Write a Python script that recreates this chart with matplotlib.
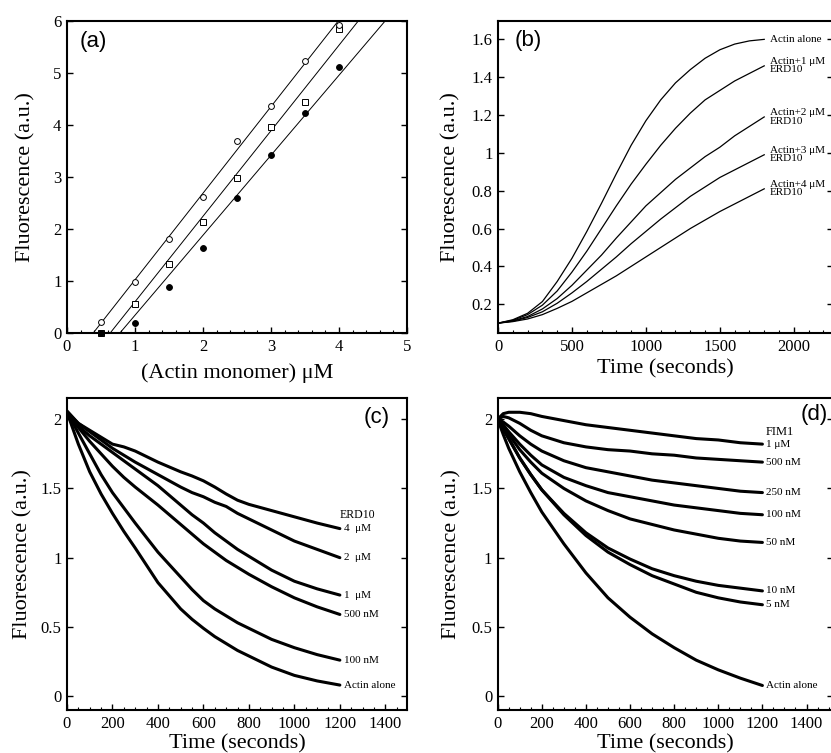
import matplotlib
matplotlib.use("Agg")
import matplotlib.pyplot as plt
import numpy as np
from matplotlib.ticker import MultipleLocator

# ---- panel (a): fluorescence vs actin monomer
conc_a = [0.5, 1.0, 1.5, 2.0, 2.5, 3.0, 3.5, 4.0]
open_circ = [0.21, 0.98, 1.81, 2.62, 3.70, 4.36, 5.23, 5.92]
open_sq = [0.00, 0.56, 1.32, 2.13, 2.98, 3.97, 4.44, 5.84]
filled_circ = [0.00, 0.20, 0.89, 1.64, 2.59, 3.43, 4.24, 5.12]

# ---- panel (b): polymerisation time course
time_b = [0, 100, 200, 300, 400, 500, 600, 700, 800, 900, 1000,
          1100, 1200, 1300, 1400, 1500, 1600, 1700, 1800]
b_alone = [0.10, 0.118, 0.152, 0.214, 0.32, 0.443, 0.584, 0.734, 0.89, 1.04,
           1.17, 1.28, 1.37, 1.44, 1.50, 1.545, 1.575, 1.592, 1.60]
b_erd1 = [0.10, 0.115, 0.145, 0.195, 0.27, 0.37, 0.48, 0.60, 0.72, 0.835,
          0.94, 1.04, 1.13, 1.21, 1.28, 1.33, 1.38, 1.42, 1.46]
b_erd2 = [0.10, 0.112, 0.135, 0.175, 0.23, 0.30, 0.38, 0.46, 0.55, 0.635,
          0.72, 0.79, 0.86, 0.92, 0.98, 1.03, 1.09, 1.14, 1.19]
b_erd3 = [0.10, 0.11, 0.13, 0.16, 0.205, 0.26, 0.32, 0.385, 0.45, 0.52,
          0.585, 0.65, 0.71, 0.77, 0.82, 0.87, 0.91, 0.95, 0.99]
b_erd4 = [0.10, 0.108, 0.122, 0.145, 0.178, 0.215, 0.26, 0.305, 0.35, 0.40,
          0.45, 0.50, 0.55, 0.60, 0.645, 0.69, 0.73, 0.77, 0.81]
b_labels = ["Actin alone", "Actin+1 μM\nERD10", "Actin+2 μM\nERD10",
            "Actin+3 μM\nERD10", "Actin+4 μM\nERD10"]

# ---- panel (c): depolymerisation with ERD10
time_c = [0, 50, 100, 150, 200, 250, 300, 400, 500, 550, 600, 650, 700, 750,
          800, 900, 1000, 1100, 1200]
c_alone = [2.05, 1.82, 1.62, 1.46, 1.32, 1.19, 1.07, 0.82, 0.63, 0.555, 0.49, 0.43,
           0.38, 0.33, 0.29, 0.21, 0.15, 0.11, 0.08]
c_100n = [2.05, 1.90, 1.75, 1.60, 1.47, 1.36, 1.25, 1.04, 0.86, 0.77, 0.69, 0.63,
          0.58, 0.53, 0.49, 0.41, 0.35, 0.30, 0.26]
c_500n = [2.05, 1.94, 1.84, 1.75, 1.66, 1.58, 1.51, 1.38, 1.24, 1.17, 1.10, 1.04,
          0.98, 0.93, 0.88, 0.79, 0.71, 0.645, 0.59]
c_1u = [2.05, 1.95, 1.88, 1.82, 1.76, 1.70, 1.64, 1.52, 1.38, 1.31, 1.25, 1.18,
        1.12, 1.06, 1.01, 0.91, 0.83, 0.775, 0.73]
c_2u = [2.05, 1.97, 1.91, 1.85, 1.79, 1.74, 1.69, 1.60, 1.51, 1.47, 1.44, 1.40,
        1.37, 1.32, 1.28, 1.20, 1.12, 1.06, 1.00]
c_4u = [2.06, 1.97, 1.92, 1.87, 1.82, 1.80, 1.77, 1.69, 1.62, 1.59, 1.555, 1.51,
        1.46, 1.415, 1.385, 1.34, 1.295, 1.25, 1.21]
c_labels = ["Actin alone", "100 nM", "500 nM", "1  μM", "2  μM", "4  μM"]

# ---- panel (d): depolymerisation with FIM1
time_d = [0, 25, 50, 100, 150, 200, 300, 400, 500, 600, 700, 800, 900, 1000, 1100, 1200]
d_alone = [2.00, 1.89, 1.79, 1.62, 1.47, 1.33, 1.10, 0.89, 0.71, 0.57, 0.45, 0.35, 0.26, 0.19, 0.13, 0.077]
d_5n = [2.00, 1.93, 1.86, 1.72, 1.60, 1.49, 1.31, 1.16, 1.04, 0.95, 0.87, 0.81, 0.75, 0.71, 0.68, 0.66]
d_10n = [2.00, 1.93, 1.86, 1.72, 1.60, 1.49, 1.32, 1.18, 1.07, 0.99, 0.92, 0.87, 0.83, 0.80, 0.78, 0.76]
d_50n = [2.00, 1.95, 1.89, 1.78, 1.69, 1.61, 1.50, 1.41, 1.34, 1.28, 1.24, 1.20, 1.17, 1.14, 1.12, 1.11]
d_100n = [2.00, 1.96, 1.91, 1.82, 1.74, 1.67, 1.58, 1.52, 1.47, 1.44, 1.41, 1.38, 1.36, 1.34, 1.32, 1.31]
d_250n = [2.00, 1.98, 1.95, 1.88, 1.82, 1.77, 1.70, 1.65, 1.62, 1.59, 1.56, 1.54, 1.52, 1.50, 1.48, 1.47]
d_500n = [2.00, 2.02, 2.01, 1.97, 1.92, 1.88, 1.83, 1.80, 1.78, 1.77, 1.75, 1.74, 1.72, 1.71, 1.70, 1.69]
d_1u = [2.00, 2.04, 2.05, 2.05, 2.04, 2.02, 1.99, 1.96, 1.94, 1.92, 1.90, 1.88, 1.86, 1.85, 1.83, 1.82]
d_labels = ["Actin alone", "5 nM", "10 nM", "50 nM", "100 nM", "250 nM", "500 nM", "1 μM"]

SERIF = ["Liberation Serif", "DejaVu Serif"]
SANS = ["Liberation Sans", "DejaVu Sans"]
plt.rcParams["font.family"] = SERIF


def style_axes(ax, xmajor, xminor, ypad):
    for s in ax.spines.values():
        s.set_linewidth(1.5)
    ax.xaxis.set_major_locator(MultipleLocator(xmajor))
    ax.xaxis.set_minor_locator(MultipleLocator(xminor))
    ax.tick_params(which="both", direction="in", top=False, right=True,
                   labelsize=12, pad=4)
    ax.tick_params(which="major", length=4, width=1.0)
    ax.tick_params(which="minor", length=2.5, width=0.8)
    ax.tick_params(axis="y", which="minor", left=False, right=False)
    ax.set_ylabel("Fluorescence (a.u.)", fontsize=16, labelpad=ypad)


fig = plt.figure(figsize=(8.31, 7.53), dpi=100)
ax_a = fig.add_axes([0.0806, 0.5578, 0.4091, 0.4143])
ax_b = fig.add_axes([0.5993, 0.5578, 0.4031, 0.4143])
ax_c = fig.add_axes([0.0806, 0.0571, 0.4091, 0.4147])
ax_d = fig.add_axes([0.5989, 0.0571, 0.4035, 0.4147])

# (a)
xs = np.array([0.0, 5.0])
for ys in (open_circ, open_sq, filled_circ):
    k, b = np.polyfit(conc_a, ys, 1)
    ax_a.plot(xs, k * xs + b, color="black", lw=0.7, zorder=1)
ax_a.plot(conc_a, open_sq, "s", ms=4.5, mfc="white", mec="black", mew=0.7,
          clip_on=False, zorder=3)
ax_a.plot(conc_a, open_circ, "o", ms=4.2, mfc="white", mec="black", mew=0.7,
          clip_on=False, zorder=3)
ax_a.plot(conc_a, filled_circ, "o", ms=4.2, mfc="black", mec="black", mew=0.7,
          clip_on=False, zorder=4)
ax_a.set_xlim(0, 5)
ax_a.set_ylim(0, 6)
style_axes(ax_a, 1, 0.2, 13)
ax_a.set_xlabel("(Actin monomer) μM", fontsize=16, labelpad=6)
ax_a.text(0.038, 0.933, "(a)", transform=ax_a.transAxes, family=SANS,
          fontsize=16, va="center", ha="left")

# (b)
for ys, lab in zip((b_alone, b_erd1, b_erd2, b_erd3, b_erd4), b_labels):
    ax_b.plot(time_b, ys, color="black", lw=0.9)
    ax_b.text(time_b[-1] + 40, ys[-1], lab, fontsize=8, va="center", ha="left",
              linespacing=0.9)
ax_b.set_xlim(0, 2265)
ax_b.set_ylim(0.048, 1.697)
style_axes(ax_b, 500, 100, 8)
ax_b.set_yticks([0.2, 0.4, 0.6, 0.8, 1.0, 1.2, 1.4, 1.6])
ax_b.set_yticklabels(["0.2", "0.4", "0.6", "0.8", "1", "1.2", "1.4", "1.6"])
ax_b.set_xlabel("Time (seconds)", fontsize=16, labelpad=3.5)
ax_b.text(0.05, 0.936, "(b)", transform=ax_b.transAxes, family=SANS,
          fontsize=16, va="center", ha="left")

# (c)
for ys, lab in zip((c_alone, c_100n, c_500n, c_1u, c_2u, c_4u), c_labels):
    ax_c.plot(time_c, ys, color="black", lw=2.2, solid_capstyle="round")
    ax_c.text(time_c[-1] + 20, ys[-1], lab, fontsize=8, va="center", ha="left")
ax_c.text(time_c[-1], c_4u[-1] + 0.1, "ERD10", fontsize=8.5, va="center", ha="left")
ax_c.set_xlim(0, 1495)
ax_c.set_ylim(-0.1, 2.155)
style_axes(ax_c, 200, 50, 6)
ax_c.set_yticks([0, 0.5, 1, 1.5, 2])
ax_c.set_yticklabels(["0", "0.5", "1", "1.5", "2"])
ax_c.set_xlabel("Time (seconds)", fontsize=16, labelpad=2)
ax_c.text(0.95, 0.938, "(c)", transform=ax_c.transAxes, family=SANS,
          fontsize=16, va="center", ha="right")

# (d)
for ys, lab in zip((d_alone, d_5n, d_10n, d_50n, d_100n, d_250n, d_500n, d_1u), d_labels):
    ax_d.plot(time_d, ys, color="black", lw=2.2, solid_capstyle="round")
    ax_d.text(time_d[-1] + 15, ys[-1], lab, fontsize=8, va="center", ha="left")
ax_d.text(time_d[-1] + 15, d_1u[-1] + 0.09, "FIM1", fontsize=9, va="center", ha="left")
ax_d.set_xlim(0, 1520)
ax_d.set_ylim(-0.1, 2.155)
style_axes(ax_d, 200, 50, 7)
ax_d.set_yticks([0, 0.5, 1, 1.5, 2])
ax_d.set_yticklabels(["0", "0.5", "1", "1.5", "2"])
ax_d.set_xlabel("Time (seconds)", fontsize=16, labelpad=2)
ax_d.text(0.985, 0.945, "(d)", transform=ax_d.transAxes, family=SANS,
          fontsize=16, va="center", ha="right")

fig.savefig("out.png", dpi=100)
